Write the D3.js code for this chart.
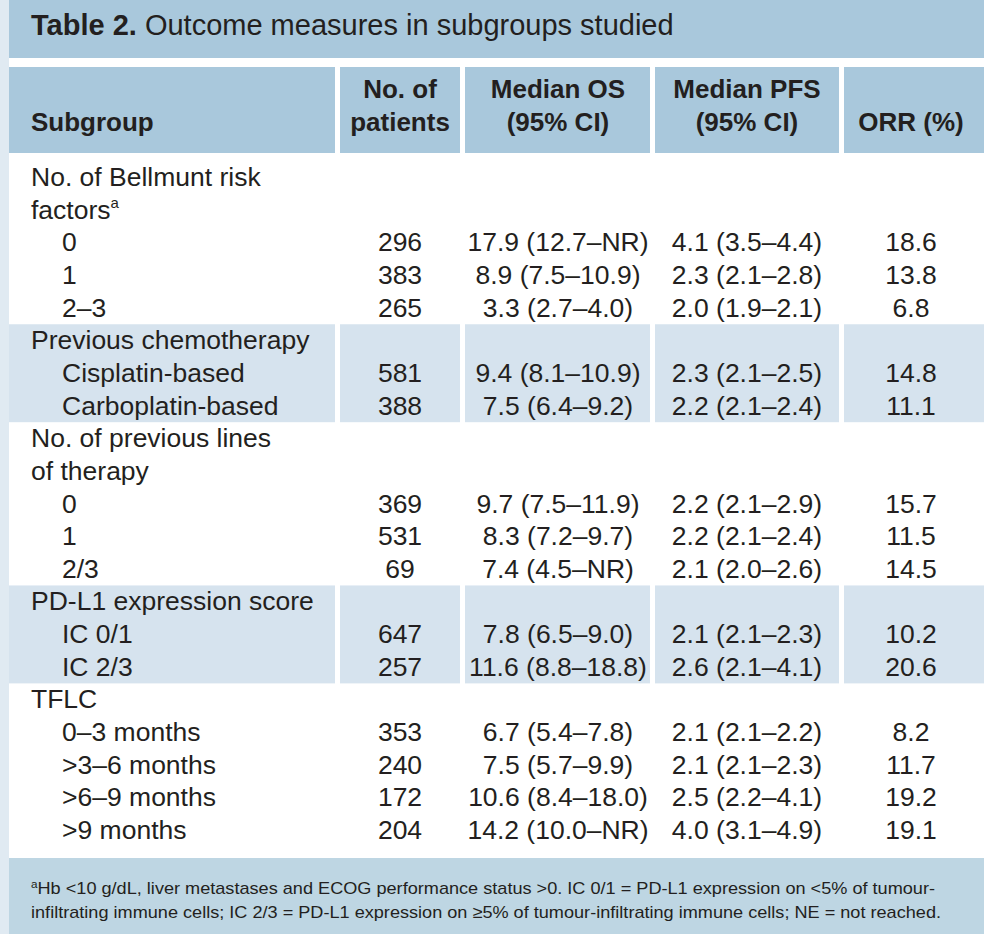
<!DOCTYPE html>
<html><head><meta charset="utf-8">
<script src="https://cdn.jsdelivr.net/npm/d3@7"></script>
<style>
html,body{margin:0;padding:0;background:#fff;}
svg{display:block;font-family:"Liberation Sans",Arial,Helvetica,sans-serif;}
</style></head>
<body>
<script>
// ---------- DATA ----------
const titleBold = "Table 2.";
const titleText = " Outcome measures in subgroups studied";
const headers = [["Subgroup"], ["No. of", "patients"], ["Median OS", "(95% CI)"], ["Median PFS", "(95% CI)"], ["ORR (%)"]];
const subgroups = [
  "No. of Bellmunt risk", "factors", "0", "1", "2\u20133",
  "Previous chemotherapy", "Cisplatin-based", "Carboplatin-based",
  "No. of previous lines", "of therapy", "0", "1", "2/3",
  "PD-L1 expression score", "IC 0/1", "IC 2/3",
  "TFLC", "0\u20133 months", ">3\u20136 months", ">6\u20139 months", ">9 months"
];
const indentLevel = [0,0,1,1,1, 0,1,1, 0,0,1,1,1, 0,1,1, 0,1,1,1,1];
const superscriptRows = {1: "a"};
const nPatients = ["","", "296","383","265", "","581","388", "","", "369","531","69", "","647","257", "", "353","240","172","204"];
const medianOS = ["","", "17.9 (12.7\u2013NR)","8.9 (7.5\u201310.9)","3.3 (2.7\u20134.0)",
  "","9.4 (8.1\u201310.9)","7.5 (6.4\u20139.2)",
  "","", "9.7 (7.5\u201311.9)","8.3 (7.2\u20139.7)","7.4 (4.5\u2013NR)",
  "","7.8 (6.5\u20139.0)","11.6 (8.8\u201318.8)",
  "", "6.7 (5.4\u20137.8)","7.5 (5.7\u20139.9)","10.6 (8.4\u201318.0)","14.2 (10.0\u2013NR)"];
const medianPFS = ["","", "4.1 (3.5\u20134.4)","2.3 (2.1\u20132.8)","2.0 (1.9\u20132.1)",
  "","2.3 (2.1\u20132.5)","2.2 (2.1\u20132.4)",
  "","", "2.2 (2.1\u20132.9)","2.2 (2.1\u20132.4)","2.1 (2.0\u20132.6)",
  "","2.1 (2.1\u20132.3)","2.6 (2.1\u20134.1)",
  "", "2.1 (2.1\u20132.2)","2.1 (2.1\u20132.3)","2.5 (2.2\u20134.1)","4.0 (3.1\u20134.9)"];
const orr = ["","", "18.6","13.8","6.8", "","14.8","11.1", "","", "15.7","11.5","14.5", "","10.2","20.6", "", "8.2","11.7","19.2","19.1"];
const shadedGroups = [[5,7],[13,15]];
const footnoteLines = [
  ["a", "Hb <10 g/dL, liver metastases and ECOG performance status >0. IC 0/1 = PD-L1 expression on <5% of tumour-"],
  ["", "infiltrating immune cells; IC 2/3 = PD-L1 expression on \u22655% of tumour-infiltrating immune cells; NE = not reached."]
];

// ---------- LAYOUT ----------
const W = 984, H = 934;
const C = {band:"#a9c8dc", shade:"#d6e3ee", foot:"#bed6e3", strip:"#e0eaf2", text:"#231f20"};
const colEdges = [[9,335],[340,460],[465,650],[655,839],[844,984]];
const colAlign = ["start","middle","middle","middle","middle"];
const colCenter = [null, 400, 558, 747, 911];

const svg = d3.select("body").append("svg").attr("width", W).attr("height", H);

// backgrounds
svg.append("rect").attr("x",0).attr("y",0).attr("width",9).attr("height",H).attr("fill",C.strip);
svg.append("rect").attr("x",9).attr("y",0).attr("width",W-9).attr("height",58).attr("fill",C.band);
svg.append("rect").attr("x",9).attr("y",858).attr("width",W-9).attr("height",H-858).attr("fill",C.foot);

// title
const t = svg.append("text").attr("x",31).attr("y",35).attr("font-size",29).attr("fill",C.text);
t.append("tspan").attr("font-weight","bold").text(titleBold);
t.append("tspan").attr("xml:space","preserve").style("white-space","pre").text(titleText);

// header cells
svg.selectAll("rect.hdr").data(colEdges).enter().append("rect").attr("class","hdr")
  .attr("x",d=>d[0]).attr("y",67).attr("width",d=>d[1]-d[0]).attr("height",153-67).attr("fill",C.band);

headers.forEach((lines,ci)=>{
  const baseY = 131 - (lines.length-1)*33;
  lines.forEach((ln,li)=>{
    svg.append("text")
      .attr("x", ci===0 ? 31 : colCenter[ci])
      .attr("y", baseY + li*33)
      .attr("text-anchor", colAlign[ci])
      .attr("font-weight","bold").attr("font-size",26).attr("fill",C.text)
      .text(ln);
  });
});

// rows
const y = d3.scaleBand().domain(d3.range(subgroups.length)).range([161, 161 + subgroups.length*32.65]).padding(0);

shadedGroups.forEach(([a,b])=>{
  svg.selectAll(null).data(colEdges).enter().append("rect")
    .attr("x",d=>d[0]).attr("y",y(a)).attr("width",d=>d[1]-d[0])
    .attr("height",y(b)+y.bandwidth()-y(a)).attr("fill",C.shade);
});

const fs = 26.5;
const rows = svg.selectAll("g.row").data(subgroups.map((s,i)=>({i,s}))).enter().append("g").attr("class","row")
  .attr("transform",d=>`translate(0,${y(d.i)+25})`);

rows.each(function(d){
  const g = d3.select(this);
  const lab = g.append("text").attr("x", indentLevel[d.i] ? 62 : 31).attr("y",0)
    .attr("font-size",fs).attr("fill",C.text).text(d.s);
  if (superscriptRows[d.i]) {
    lab.append("tspan").attr("font-size",15).attr("dy",-11).text(superscriptRows[d.i]);
  }
  [nPatients, medianOS, medianPFS, orr].forEach((arr,k)=>{
    if (!arr[d.i]) return;
    g.append("text").attr("x",colCenter[k+1]).attr("y",0).attr("text-anchor","middle")
      .attr("font-size",fs).attr("fill",C.text).text(arr[d.i]);
  });
});

// footnote
const footEnds = [935, 941];
footnoteLines.forEach(([sup,txt],i)=>{
  const tx = svg.append("text").attr("x",31).attr("y",894 + i*24)
    .attr("font-size",17).attr("fill",C.text)
    .attr("textLength", footEnds[i]-31).attr("lengthAdjust","spacingAndGlyphs");
  if (sup) tx.append("tspan").attr("font-size",11).attr("dy",-6).text(sup);
  tx.append("tspan").attr("dy", sup ? 6 : 0).text(txt);
});
</script>
</body></html>
